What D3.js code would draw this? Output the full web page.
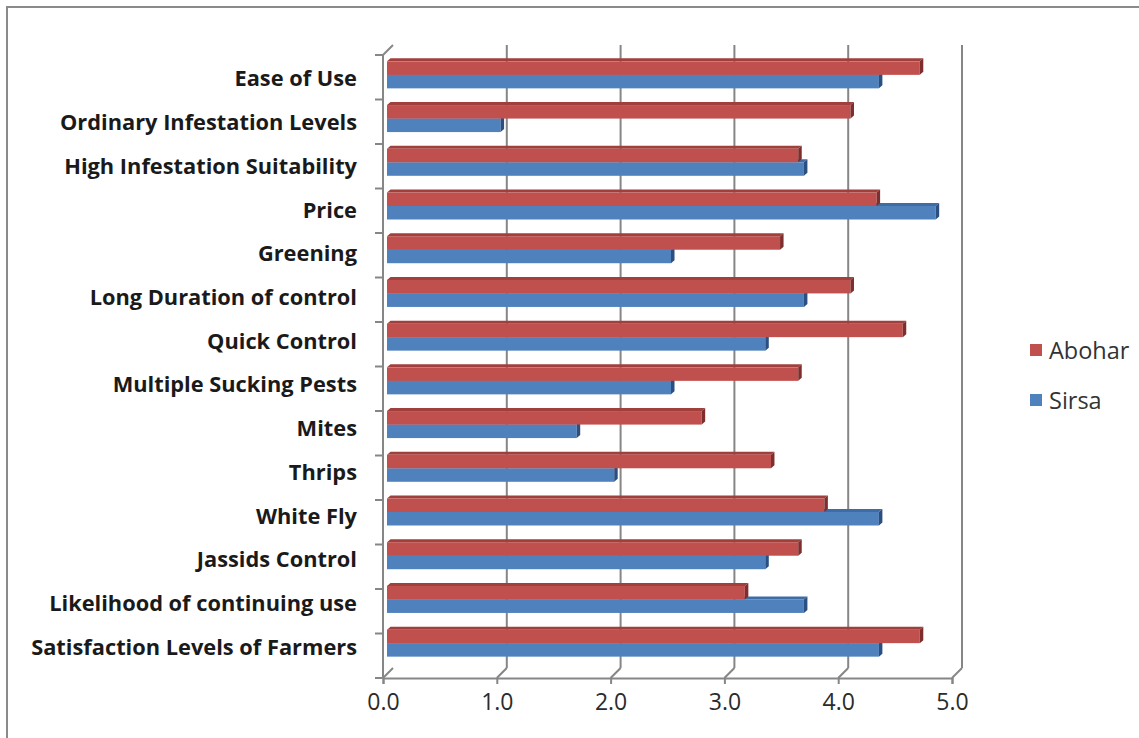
<!DOCTYPE html>
<html>
<head>
<meta charset="utf-8">
<script src="https://cdn.jsdelivr.net/npm/d3@7"></script>
<style>
  html, body { margin: 0; padding: 0; background: #ffffff; }
  svg { display: block; }
</style>
</head>
<body>
<svg id="chart" width="1139" height="738"></svg>
<script>
// Survey ratings by attribute, top to bottom as listed on the axis
const categories = [
  "Ease of Use",
  "Ordinary Infestation Levels",
  "High Infestation Suitability",
  "Price",
  "Greening",
  "Long Duration of control",
  "Quick Control",
  "Multiple Sucking Pests",
  "Mites",
  "Thrips",
  "White Fly",
  "Jassids Control",
  "Likelihood of continuing use",
  "Satisfaction Levels of Farmers"
];
const abohar = [4.69, 4.08, 3.62, 4.31, 3.46, 4.08, 4.54, 3.62, 2.77, 3.38, 3.85, 3.62, 3.15, 4.69];
const sirsa  = [4.33, 1.00, 3.67, 4.83, 2.50, 3.67, 3.33, 2.50, 1.67, 2.00, 4.33, 3.33, 3.67, 4.33];
const seriesNames = ["Abohar", "Sirsa"];
const xTicks = [0, 1, 2, 3, 4, 5];

const colors = {
  Abohar: { face: "#C0504D", top: "#A13F3C", cap: "#7E2E2C" },
  Sirsa:  { face: "#4F81BD", top: "#3F6CA5", cap: "#2B4F80" }
};

const svg = d3.select("#chart");

// Chart-area frame
svg.append("rect")
  .attr("x", 7).attr("y", 7).attr("width", 1160).attr("height", 760)
  .attr("fill", "none").attr("stroke", "#8a8a8a").attr("stroke-width", 2);

// 3-D box geometry: front plane, back wall and the mid-depth plane of the bars
const xFront = d3.scaleLinear().domain([0, 5]).range([383, 952]);
const xBack  = d3.scaleLinear().domain([0, 5]).range([393, 962]);
const xBar   = d3.scaleLinear().domain([0, 5]).range([387, 955]);
const frontTop = 55, frontFloor = 678, backTop = 45, backFloor = 668;

const yFront = d3.scaleBand().domain(categories).range([frontTop, frontFloor]);
const yBar   = d3.scaleBand().domain(categories).range([53, 665]);

const gridColor = "#868686";
const grid = svg.append("g").attr("stroke", gridColor).attr("stroke-width", 2).attr("fill", "none");

// Back-wall gridlines
grid.selectAll("line.v").data(xTicks.filter(t => t > 0)).join("line")
  .attr("x1", d => xBack(d)).attr("x2", d => xBack(d))
  .attr("y1", backTop).attr("y2", backFloor);

// Floor lines running from the front ticks to the back wall
grid.selectAll("line.floor").data(xTicks).join("line")
  .attr("x1", d => xFront(d)).attr("y1", frontFloor)
  .attr("x2", d => xBack(d)).attr("y2", backFloor);

// Front value axis with its tick marks
const xAxis = d3.axisBottom(xFront).tickValues(xTicks).tickFormat(d3.format(".1f")).tickSize(6).tickPadding(10);
const xg = svg.append("g").attr("transform", `translate(0,${frontFloor})`).call(xAxis);
xg.select(".domain").attr("stroke", gridColor).attr("stroke-width", 2);
xg.selectAll(".tick line").attr("stroke", gridColor).attr("stroke-width", 2);
xg.selectAll(".tick text")
  .attr("font-family", "'Open Sans', sans-serif").attr("font-size", 23)
  .attr("fill", "#2b2b2b");

// Category axis: vertical line, boundary ticks and the top corner edge
const boundaries = categories.map(c => yFront(c)).concat([frontFloor]);
grid.append("line").attr("x1", xFront(0)).attr("x2", xFront(0)).attr("y1", frontTop).attr("y2", frontFloor);
grid.selectAll("line.ytick").data(boundaries).join("line")
  .attr("x1", xFront(0) - 8).attr("x2", xFront(0))
  .attr("y1", d => d).attr("y2", d => d);
grid.append("line").attr("x1", xFront(0)).attr("y1", frontTop).attr("x2", xBack(0)).attr("y2", backTop);

// Bars with a thin top face and an end cap
const barH = 13.5, dx = 3.5, dy = 3;
const rows = [];
categories.forEach((c, i) => {
  rows.push({ cat: c, series: "Sirsa", value: sirsa[i], slot: 1 });
  rows.push({ cat: c, series: "Abohar", value: abohar[i], slot: 0 });
});

const bars = svg.append("g").selectAll("g.bar").data(rows).join("g").attr("class", "bar");
bars.each(function (d) {
  const g = d3.select(this);
  const center = yBar(d.cat) + yBar.bandwidth() / 2;
  const y0 = d.slot === 0 ? center - barH : center;
  const x0 = xBar(0), x1 = xBar(d.value);
  const col = colors[d.series];
  g.append("polygon")
    .attr("points", [[x0, y0], [x1, y0], [x1 + dx, y0 - dy], [x0 + dx, y0 - dy]].map(p => p.join(",")).join(" "))
    .attr("fill", col.top);
  g.append("rect")
    .attr("x", x0).attr("y", y0).attr("width", x1 - x0).attr("height", barH)
    .attr("fill", col.face);
  g.append("polygon")
    .attr("points", [[x1, y0], [x1 + dx, y0 - dy], [x1 + dx, y0 + barH - dy], [x1, y0 + barH]].map(p => p.join(",")).join(" "))
    .attr("fill", col.cap);
});

// Category labels
svg.append("g").selectAll("text").data(categories).join("text")
  .attr("x", 357)
  .attr("y", d => yBar(d) + yBar.bandwidth() / 2 + 3)
  .attr("text-anchor", "end")
  .attr("dominant-baseline", "central")
  .attr("font-family", "'Open Sans', sans-serif")
  .attr("font-weight", "bold")
  .attr("font-size", 21.8)
  .attr("fill", "#1a1a1a")
  .text(d => d);

// Legend
const legendY = d3.scalePoint().domain(seriesNames).range([350, 400]);
const lg = svg.append("g").selectAll("g").data(seriesNames).join("g")
  .attr("transform", d => `translate(1030,${legendY(d)})`);
lg.append("rect").attr("x", 0).attr("y", -6).attr("width", 12).attr("height", 12)
  .attr("fill", d => colors[d].face);
lg.append("text").attr("x", 19).attr("y", 0)
  .attr("dominant-baseline", "central")
  .attr("font-family", "'Open Sans', sans-serif").attr("font-size", 23.5)
  .attr("fill", "#333")
  .text(d => d);
</script>
</body>
</html>
